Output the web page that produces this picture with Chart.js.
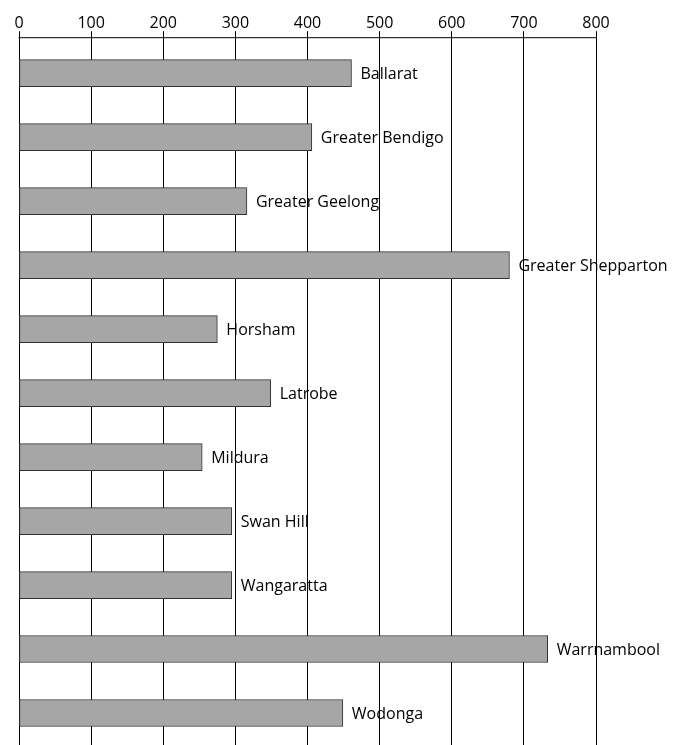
<!DOCTYPE html>
<html>
<head>
<meta charset="utf-8">
<script src="https://cdn.jsdelivr.net/npm/chart.js@4"></script>
<style>
html,body{margin:0;padding:0;background:#fff;}
#wrap{width:688px;height:745px;position:relative;}
</style>
</head>
<body>
<div id="wrap"><canvas id="c"></canvas></div>
<script>
const categories = ["Ballarat","Greater Bendigo","Greater Geelong","Greater Shepparton","Horsham","Latrobe","Mildura","Swan Hill","Wangaratta","Warrnambool","Wodonga"];
const values = [461, 406, 316, 680, 275, 349, 254, 295, 295, 733, 449];
const tickValues = [0, 100, 200, 300, 400, 500, 600, 700, 800];

const FONT = "'Open Sans', sans-serif";

const topAxisLine = {
  id: 'topAxisLine',
  afterDraw(chart) {
    const x = chart.scales.x;
    const ctx = chart.ctx;
    const y = chart.chartArea.top - 4 + 0.5;
    ctx.save();
    ctx.strokeStyle = '#000';
    ctx.lineWidth = 1;
    ctx.beginPath();
    ctx.moveTo(x.getPixelForValue(tickValues[0]) - 0.5, y);
    ctx.lineTo(x.getPixelForValue(tickValues[tickValues.length - 1]) + 0.5, y);
    ctx.stroke();
    ctx.restore();
  }
};

const barLabels = {
  id: 'barLabels',
  afterDatasetsDraw(chart) {
    const ctx = chart.ctx;
    const meta = chart.getDatasetMeta(0);
    ctx.save();
    ctx.font = "16px " + FONT;
    ctx.fillStyle = '#000';
    ctx.textAlign = 'left';
    ctx.textBaseline = 'middle';
    meta.data.forEach((bar, i) => {
      ctx.fillText(categories[i], bar.x + 9, bar.y + 1);
    });
    ctx.restore();
  }
};

new Chart(document.getElementById('c'), {
  type: 'bar',
  data: {
    labels: categories,
    datasets: [{
      data: values,
      backgroundColor: '#a6a6a6',
      borderColor: '#333333',
      borderWidth: 1,
      borderSkipped: false,
      barThickness: 27
    }]
  },
  options: {
    indexAxis: 'y',
    responsive: true,
    maintainAspectRatio: false,
    animation: false,
    layout: { padding: { top: 16, left: 19, right: 92, bottom: 0 } },
    plugins: { legend: { display: false }, tooltip: { enabled: false } },
    scales: {
      x: {
        position: 'top',
        min: 0,
        max: 800,
        afterBuildTicks(scale) { scale.ticks = tickValues.map(v => ({ value: v })); },
        ticks: {
          font: { family: FONT, size: 16 },
          color: '#000',
          padding: -2,
          maxRotation: 0
        },
        grid: {
          color: '#000',
          lineWidth: 1,
          tickLength: 10,
          drawTicks: true
        },
        border: { display: false }
      },
      y: {
        display: false,
        grid: { display: false }
      }
    }
  },
  plugins: [barLabels, topAxisLine]
});
</script>
</body>
</html>
